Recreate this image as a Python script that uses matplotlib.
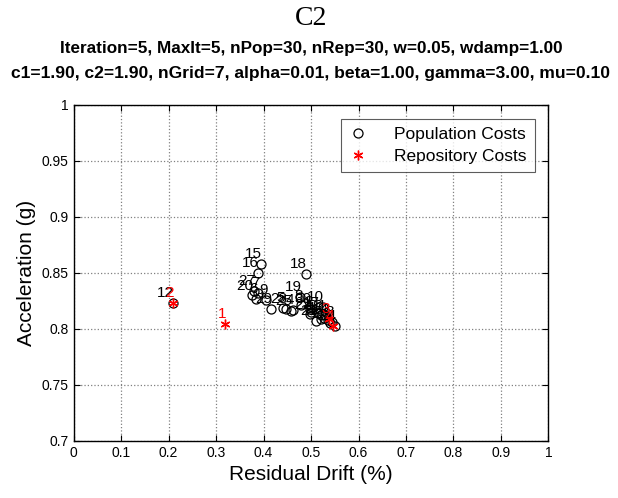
import matplotlib
matplotlib.use('Agg')
import matplotlib.pyplot as plt

# population costs (residual drift %, acceleration g), labelled 1..30
pop_x = [0.530, 0.500, 0.545, 0.462, 0.441, 0.385, 0.388, 0.479, 0.405, 0.525,
         0.520, 0.209, 0.527, 0.535, 0.394, 0.388, 0.515, 0.489, 0.477, 0.376,
         0.511, 0.498, 0.540, 0.550, 0.458, 0.520, 0.379, 0.447, 0.416, 0.498]
pop_y = [0.812, 0.815, 0.806, 0.817, 0.819, 0.827, 0.832, 0.821, 0.826, 0.8196,
         0.812, 0.823, 0.810, 0.808, 0.858, 0.850, 0.814, 0.849, 0.8286, 0.830,
         0.807, 0.813, 0.805, 0.803, 0.816, 0.809, 0.834, 0.818, 0.818, 0.818]
# repository costs, labelled 1..4
rep_x = [0.319, 0.209, 0.537, 0.546]
rep_y = [0.8045, 0.823, 0.809, 0.803]

title = "C2"
subtitle = ["Iteration=5, MaxIt=5, nPop=30, nRep=30, w=0.05, wdamp=1.00",
            "c1=1.90, c2=1.90, nGrid=7, alpha=0.01, beta=1.00, gamma=3.00, mu=0.10"]

plt.rcParams['font.family'] = ['Liberation Sans', 'DejaVu Sans']
fig = plt.figure(figsize=(6.18, 4.98), dpi=100)
ax = fig.add_axes([0.119, 0.1145, 0.7685, 0.675])

asterisk = (6, 2, 0)
ax.plot(pop_x, pop_y, 'o', mfc='none', mec='black', ms=6.5, mew=0.9,
        label='Population Costs')
ax.plot(rep_x, rep_y, ls='none', marker=asterisk, color='red', ms=7, mew=1,
        label='Repository Costs')

for i, (x, y) in enumerate(zip(pop_x, pop_y)):
    ax.annotate(str(i + 1), (x, y), xytext=(1, 2), textcoords='offset points',
                ha='right', va='bottom', fontsize=11, color='black')
for i, (x, y) in enumerate(zip(rep_x, rep_y)):
    ax.annotate(str(i + 1), (x, y), xytext=(1, 2), textcoords='offset points',
                ha='right', va='bottom', fontsize=11, color='red')

ax.set_xlim(0, 1)
ax.set_ylim(0.7, 1)
ax.set_xticks([i / 10 for i in range(11)])
ax.set_xticklabels(['0', '0.1', '0.2', '0.3', '0.4', '0.5', '0.6', '0.7', '0.8', '0.9', '1'])
ax.set_yticks([0.7, 0.75, 0.8, 0.85, 0.9, 0.95, 1.0])
ax.set_yticklabels(['0.7', '0.75', '0.8', '0.85', '0.9', '0.95', '1'])
ax.tick_params(direction='in', labelsize=10, top=True, right=True, length=4)
ax.grid(True, ls=':', color='#808080', lw=0.9)
for s in ax.spines.values():
    s.set_linewidth(1.0)
ax.set_xlabel('Residual Drift (%)', fontsize=15)
ax.set_ylabel('Acceleration (g)', fontsize=15)

leg = ax.legend(loc='upper right', fontsize=12.5, frameon=True, fancybox=False,
                edgecolor='#333333', borderaxespad=0.8, handletextpad=1.6,
                handlelength=1.0, labelspacing=0.4, borderpad=0.45)
leg.get_frame().set_linewidth(0.8)

fig.text(0.503, 0.962, title, ha='center', va='center', fontsize=20,
         family='Liberation Serif')
fig.text(0.503, 0.903, subtitle[0], ha='center', va='center', fontsize=12.3,
         fontweight='bold')
fig.text(0.503, 0.853, subtitle[1], ha='center', va='center', fontsize=12.6,
         fontweight='bold')

fig.savefig('out.png', dpi=100)
